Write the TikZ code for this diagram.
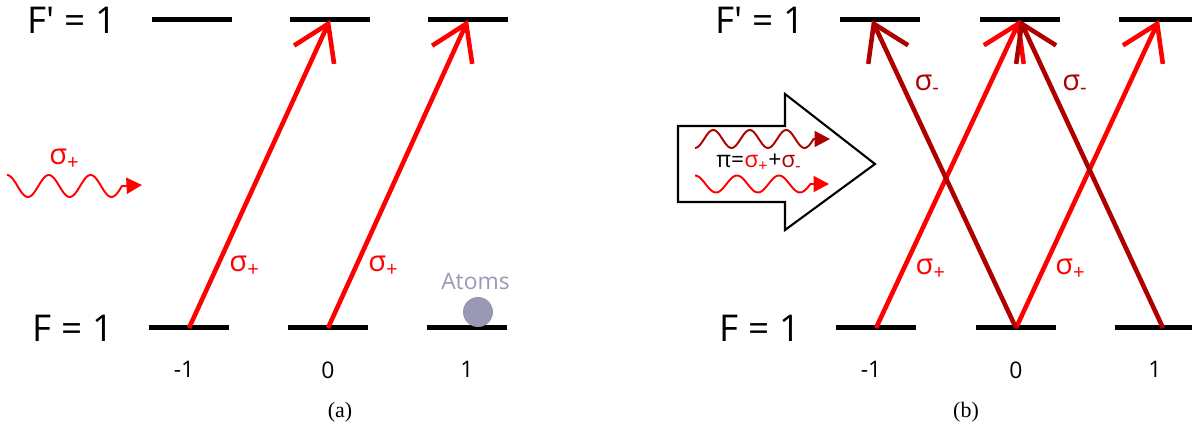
\documentclass[tikz,border=0pt]{standalone}
\usepackage{fontspec}
\setmainfont{Open Sans}
\newfontfamily\capfont{Liberation Serif}
\usepackage{tikz}
\usetikzlibrary{positioning,arrows.meta}
\usepackage{xcolor}
\definecolor{SigPlus}{RGB}{255,0,0}
\definecolor{SigMinus}{RGB}{175,0,0}
\definecolor{AtomGray}{RGB}{153,153,182}

\begin{document}
\begin{tikzpicture}[x=0.2mm, y=-0.2mm,
    lvl/.style={rectangle, fill=black, inner sep=0pt, minimum width=16mm, minimum height=1mm},
    lvllab/.style={font=\fontsize{21}{25}\selectfont, inner sep=0pt},
    mlab/.style={font=\fontsize{13}{16}\selectfont, inner sep=0pt},
    siglab/.style={font=\fontsize{16.5}{19}\selectfont, inner xsep=2mm, inner ysep=0pt, anchor=west},
    transarrow/.style={-{Straight Barb[length=6.8mm, width=8.8mm]}, line width=2.6pt},
    photon/.style={line width=1.1pt, -{Triangle[length=3.1mm, width=3.2mm]}},
    captext/.style={font=\capfont\fontsize{12.5}{15}\selectfont, inner sep=0pt, anchor=base},
]
\useasboundingbox (0,0) rectangle (1192,424);

% (a) only sigma+ light
\node[lvl] (a-e-1) at (192,20) {};
\node[lvl] (a-e0) at (330,20) {};
\node[lvl] (a-e1) at (468,20) {};
\node[lvl] (a-g-1) at (189,328) {};
\node[lvl] (a-g0) at (328,328) {};
\node[lvl] (a-g1) at (467,328) {};
\node[lvllab, left=7mm of a-e-1] (a-Fe) {F\textquotesingle\ = 1};
\node[lvllab, left=7mm of a-g-1] (a-Fg) {F = 1};
\node[mlab, below=6.06mm of a-g-1, xshift=-1mm] (a-m-1) {-1};
\node[mlab, below=6.06mm of a-g0] (a-m0) {0};
\node[mlab, below=6.06mm of a-g1] (a-m1) {1};

\draw[transarrow, SigPlus] (a-g-1.center) -- (a-e0.center) node[siglab, pos=0.2] {σ\textsubscript{+}};
\draw[transarrow, SigPlus] (a-g0.center) -- (a-e1.center) node[siglab, pos=0.2] {σ\textsubscript{+}};

\coordinate (a-photon) at (142,185);
\draw[photon, SigPlus] plot[domain=0:2.75, samples=80] ({7+41.8*\x}, {186-11*cos(360*\x)}) -- (a-photon);
\node[siglab, inner sep=0pt, anchor=base west, text=SigPlus] (a-photonlab) at (49,165) {σ\textsubscript{+}};

\node[circle, fill=AtomGray, minimum size=6mm, inner sep=0pt] (atom) at (478,312) {};
\node[font=\fontsize{13}{15}\selectfont, text=AtomGray, inner sep=0pt, above=1.4mm of atom, xshift=-0.5mm] (atomlab) {Atoms};

\node[captext] (capa) at (340,418) {(a)};

% (b) pi light = sigma+ + sigma-
\node[lvl] (b-e-1) at (880,20) {};
\node[lvl] (b-e0) at (1020,20) {};
\node[lvl] (b-e1) at (1159,20) {};
\node[lvl] (b-g-1) at (876,328) {};
\node[lvl] (b-g0) at (1016,328) {};
\node[lvl] (b-g1) at (1155,328) {};
\node[lvllab, left=7mm of b-e-1] (b-Fe) {F\textquotesingle\ = 1};
\node[lvllab, left=7mm of b-g-1] (b-Fg) {F = 1};
\node[mlab, below=6.06mm of b-g-1, xshift=-1mm] (b-m-1) {-1};
\node[mlab, below=6.06mm of b-g0] (b-m0) {0};
\node[mlab, below=6.06mm of b-g1] (b-m1) {1};

\draw[transarrow, SigPlus] (b-g-1.center) -- (b-e0.center) node[siglab, pos=0.19] {σ\textsubscript{+}};
\draw[transarrow, SigPlus] (b-g0.center) -- (b-e1.center) node[siglab, pos=0.19] {σ\textsubscript{+}};
\draw[transarrow, SigMinus] (b-g0.center) -- ([xshift=-1.6mm]b-e-1.center) node[siglab, pos=0.79] {σ\textsubscript{-}};
\draw[transarrow, SigMinus] ([xshift=1.6mm]b-g1.center) -- (b-e0.center) node[siglab, pos=0.79] {σ\textsubscript{-}};

\draw[line width=1.2pt] (678,126) -- (785,126) -- (785,94) -- (875,164) -- (785,230) -- (785,202) -- (678,202) -- cycle;
\coordinate (b-photonm) at (830,139);
\coordinate (b-photonp) at (829,184);
\draw[photon, SigMinus] plot[domain=0:3.25, samples=80] ({695+36.5*\x}, {139+9*cos(360*\x)}) -- (b-photonm);
\draw[photon, SigPlus] plot[domain=0:2.75, samples=80] ({695+42*\x}, {184-8.5*cos(360*\x)}) -- (b-photonp);
\node[font=\fontsize{13}{15}\selectfont, inner sep=0pt, anchor=base west] (b-pilab) at (716,168)
    {π=\textcolor{SigPlus}{σ\textsubscript{+}}+\textcolor{SigMinus}{σ\textsubscript{-}}};

\node[captext] (capb) at (966,418) {(b)};
\end{tikzpicture}
\end{document}
